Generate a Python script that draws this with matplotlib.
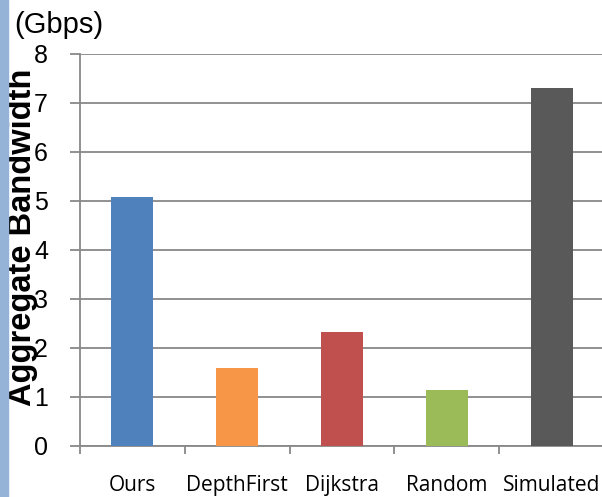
import matplotlib
matplotlib.use("Agg")
import matplotlib.pyplot as plt
import numpy as np

# bandwidth per routing method (Gbps)
methods = ["Ours", "DepthFirst", "Dijkstra", "Random", "Simulated"]
bandwidth = [5.08, 1.59, 2.32, 1.14, 7.30]
colors = ["#4F81BD", "#F79646", "#C0504D", "#9BBB59", "#595959"]
yticks = [0, 1, 2, 3, 4, 5, 6, 7, 8]

grid_color = "#888888"

fig = plt.figure(figsize=(6.02, 4.97), dpi=100)
W, H = 602, 497
ax = fig.add_axes([80 / W, 1 - 445.7 / H, 524 / W, 392 / H])

# light blue strip along the left edge
fig.patches.append(plt.Rectangle((0, 0), 8 / W, 1, transform=fig.transFigure,
                                 color="#95B3D7", zorder=0))

x = np.arange(len(methods))
ax.bar(x, bandwidth, width=0.40, color=colors, zorder=3)

ax.set_xlim(-0.5, len(methods) - 0.5)
ax.set_ylim(0, 8)
ax.set_yticks(yticks)
ax.yaxis.grid(True, color=grid_color, linewidth=1.3, zorder=0)
ax.set_axisbelow(True)

for s in ["top", "right"]:
    ax.spines[s].set_visible(False)
for s in ["left", "bottom"]:
    ax.spines[s].set_color(grid_color)
    ax.spines[s].set_linewidth(1.3)

# labels under the bars, tick marks between categories
ax.set_xticks(x)
ax.set_xticklabels(methods, fontfamily="Open Sans", fontsize=15)
ax.tick_params(axis="x", length=0, pad=21)
ax.set_xticks(np.arange(-0.5, len(methods) - 0.5, 1.0), minor=True)
ax.tick_params(axis="x", which="minor", length=6, width=1.3, color=grid_color)

ax.tick_params(axis="y", length=7, width=1.3, color=grid_color, pad=16,
               labelsize=18)
for lbl in ax.get_yticklabels():
    lbl.set_fontfamily("Liberation Sans")

ylab = ax.set_ylabel("Aggregate Bandwidth", fontfamily="Liberation Sans",
                     fontweight="bold", fontsize=23.5, va="center")
ax.yaxis.set_label_coords(23 / W, 1 - 237 / H, transform=fig.transFigure)

fig.text(14 / W, 1 - 33 / H, "(Gbps)", fontfamily="Liberation Sans",
         fontsize=21, ha="left", va="baseline")

fig.savefig("out.png", dpi=100)
